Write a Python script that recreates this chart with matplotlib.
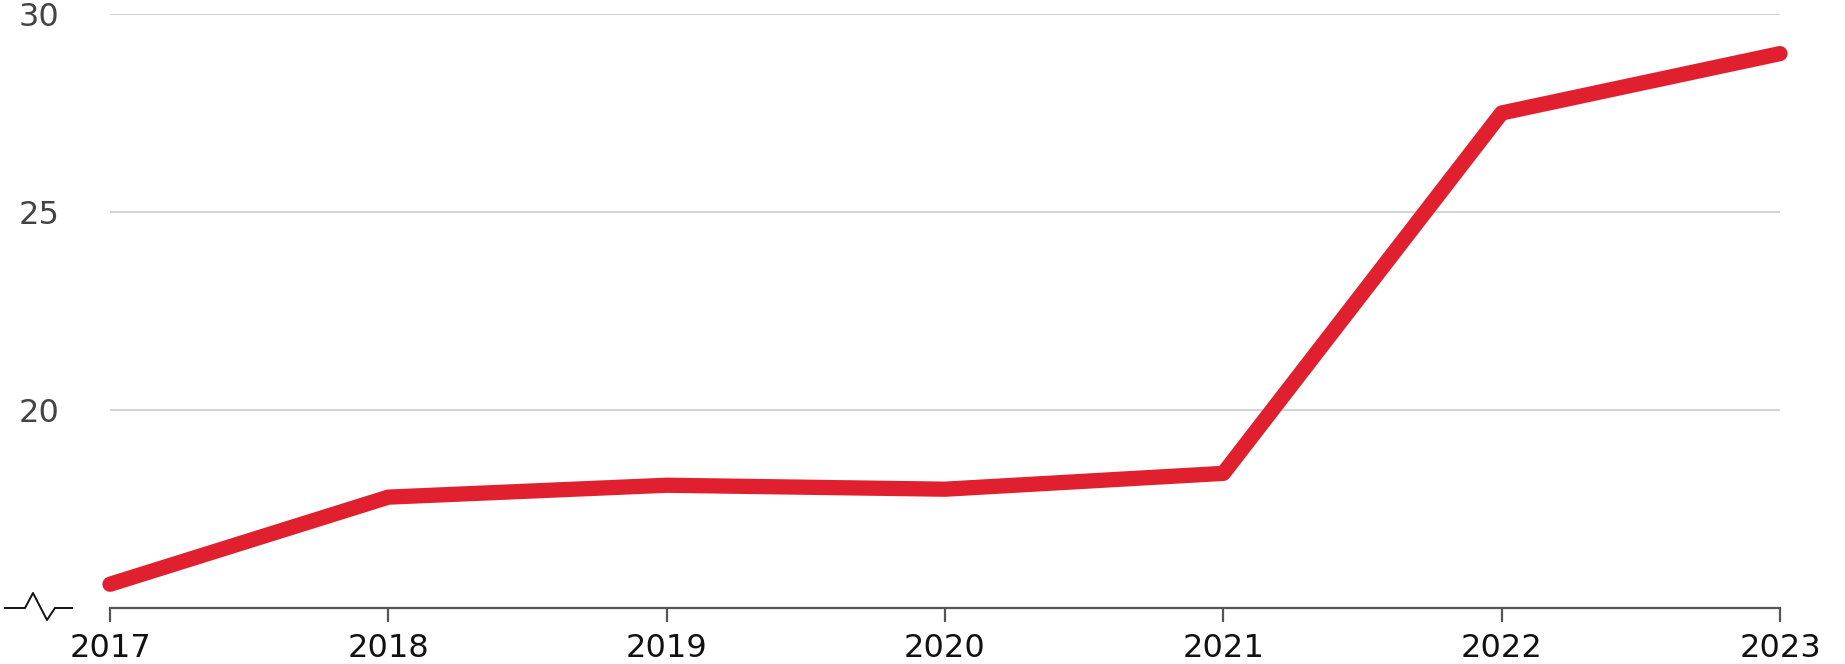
import matplotlib
matplotlib.use('Agg')
import matplotlib.pyplot as plt
from matplotlib.lines import Line2D

years = [2017, 2018, 2019, 2020, 2021, 2022, 2023]
values = [15.6, 17.8, 18.1, 18.0, 18.4, 27.5, 29.0]
y_ticks = [20, 25, 30]

plt.rcParams['font.family'] = ['DejaVu Sans']

W, H = 1845, 664
fig = plt.figure(figsize=(W / 100, H / 100), dpi=100)
ax = fig.add_axes([110 / W, 56 / H, 1670 / W, 594 / H])

ax.plot(years, values, color='#e0202f', lw=11, solid_capstyle='round',
        solid_joinstyle='round', clip_on=False, zorder=3)

ax.set_xlim(2017, 2023)
ax.set_ylim(15, 30)
ax.set_xticks(years)
ax.set_xticklabels([str(y) for y in years], fontsize=23, color='#111111')
ax.set_yticks(y_ticks)
ax.set_yticklabels([str(v) for v in y_ticks], fontsize=23, color='#444444', ha='left')

ax.tick_params(axis='x', length=10, width=1.6, color='#555555', pad=8)
ax.tick_params(axis='y', length=0, pad=66)

ax.grid(axis='y', color='#cccccc', lw=1.2)
ax.set_axisbelow(True)
for s in ['top', 'right', 'left']:
    ax.spines[s].set_visible(False)
ax.spines['bottom'].set_color('#555555')
ax.spines['bottom'].set_linewidth(1.6)

# axis break symbol
bx = [5, 25, 33, 47, 55, 72]
by = [608, 608, 593, 620, 608, 608]
fig.add_artist(Line2D([x / W for x in bx], [1 - y / H for y in by],
                      transform=fig.transFigure, color='#111111', lw=1.4))

plt.savefig('out.png', dpi=100)
